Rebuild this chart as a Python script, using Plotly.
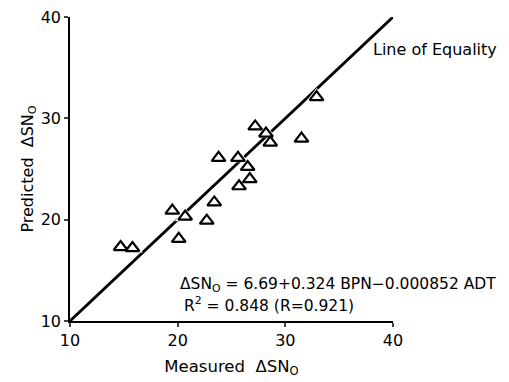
import plotly.graph_objects as go

measured = [14.7, 15.8, 19.5, 20.1, 20.7, 22.7, 23.4, 23.8, 25.6, 25.7, 26.5, 26.7, 27.2, 28.2, 28.6, 31.5, 32.9]
predicted = [17.3, 17.2, 20.9, 18.1, 20.3, 19.9, 21.7, 26.1, 26.1, 23.3, 25.2, 24.0, 29.2, 28.5, 27.6, 28.0, 32.1]
equality = [10, 40]
x_ticks = [10, 20, 30, 40]
y_ticks = [10, 20, 30, 40]

FONT = "DejaVu Sans"

fig = go.Figure()
fig.add_trace(go.Scatter(x=equality, y=equality, mode="lines",
                         line=dict(color="black", width=2.8), cliponaxis=False, hoverinfo="skip"))
# white halos to break the line around markers
fig.add_trace(go.Scatter(x=measured, y=predicted, mode="markers",
                         marker=dict(symbol="triangle-up", size=18, color="white",
                                     line=dict(width=0)), cliponaxis=False))
fig.add_trace(go.Scatter(x=measured, y=predicted, mode="markers",
                         marker=dict(symbol="triangle-up-open", size=12, color="black",
                                     line=dict(width=2.2, color="black")), cliponaxis=False))

fig.update_layout(
    width=509, height=382,
    margin=dict(l=62, r=124, t=9, b=69),
    paper_bgcolor="white", plot_bgcolor="white",
    showlegend=False,
    font=dict(family=FONT, color="black", size=15),
    xaxis=dict(range=[10, 40], tickvals=x_ticks, ticks="outside", ticklen=4, tickwidth=1.5,
               showline=True, linecolor="black", linewidth=1.5, showgrid=False, zeroline=False,
               automargin=False, ticklabeloverflow="allow",
               tickfont=dict(size=16, family=FONT),
               title=dict(text="Measured  ΔSN<sub>O</sub>", font=dict(size=16.5, family=FONT), standoff=11)),
    yaxis=dict(range=[10, 40], tickvals=y_ticks, ticks="outside", ticklen=4, tickwidth=1.5,
               showline=True, linecolor="black", linewidth=1.5, showgrid=False, zeroline=False,
               automargin=False, ticklabeloverflow="allow",
               tickfont=dict(size=16, family=FONT),
               title=dict(text="Predicted  ΔSN<sub>O</sub>", font=dict(size=16, family=FONT), standoff=3)),
    annotations=[
        dict(x=38.0, y=36.8, xref="x", yref="y", text="Line of Equality", showarrow=False,
             xanchor="left", yanchor="middle", font=dict(size=16, family=FONT)),
        dict(x=20.0, y=13.55, xref="x", yref="y",
             text="ΔSN<sub>O</sub> = 6.69+0.324 BPN−0.000852 ADT", showarrow=False,
             xanchor="left", yanchor="middle", font=dict(size=15.5, family=FONT)),
        dict(x=20.4, y=11.6, xref="x", yref="y",
             text="R<sup>2</sup> = 0.848 (R=0.921)", showarrow=False,
             xanchor="left", yanchor="middle", font=dict(size=15.5, family=FONT)),
    ],
)

fig.write_html("out.html")
